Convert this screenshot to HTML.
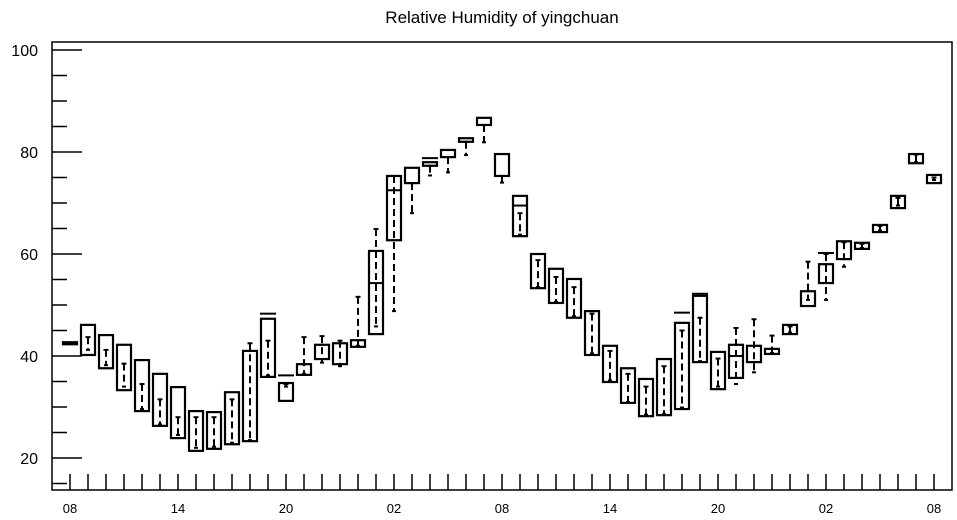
<!DOCTYPE html>
<html><head><meta charset="utf-8"><style>
body{margin:0;background:#fff;}
svg{display:block;font-family:"Liberation Sans",sans-serif;}
</style></head><body>
<svg id="chart" width="957" height="520" viewBox="0 0 957 520" xmlns="http://www.w3.org/2000/svg">
<text x="502" y="23" font-size="17" text-anchor="middle">Relative Humidity of yingchuan</text>
<rect x="52" y="42" width="900" height="448" fill="none" stroke="#000" stroke-width="1.5"/>
<g id="axes"></g>
<g id="marks"></g>
</svg>
<script>
const hourLabels=["08","14","20","02","08","14","20","02","08"];
const yTicks=[20,40,60,80,100];
const boxHi=[42.7,46.1,44.1,42.2,39.2,36.5,33.9,29.2,29.0,32.9,41.0,47.3,34.7,38.4,42.2,42.5,43.1,60.6,75.3,76.9,78.0,80.4,82.7,86.7,79.6,71.4,60.0,57.1,55.1,48.8,42.0,37.6,35.5,39.4,46.5,51.8,40.8,42.2,42.0,41.4,46.1,52.7,58.0,62.5,62.2,65.7,71.4,79.6,75.5];
const boxLo=[42.3,40.2,37.6,33.3,29.2,26.3,23.9,21.4,21.8,22.7,23.3,35.9,31.2,36.3,39.4,38.4,41.8,44.3,62.7,73.9,77.3,79.0,82.0,85.3,75.3,63.5,53.3,50.4,47.5,40.2,34.9,30.8,28.2,28.4,29.6,38.8,33.5,35.7,38.8,40.4,44.3,49.8,54.3,59.0,61.0,64.3,69.0,77.8,73.9];
const whiskHi=[42.6,43.7,41.2,38.5,34.5,31.5,28.0,28.0,28.0,31.5,42.5,43.0,34.5,43.7,43.9,43.0,51.6,64.9,75.3,73.9,77.3,79.0,82.0,85.3,75.3,68.0,58.8,55.5,53.5,48.3,41.0,36.5,34.0,38.0,45.0,47.5,39.5,45.5,47.2,44.0,45.8,58.5,60.0,62.3,62.0,65.5,71.0,79.5,75.0];
const whiskLo=[42.4,41.2,38.2,34.0,29.6,26.6,24.5,22.0,22.2,23.0,23.5,36.2,34.0,36.5,38.7,38.0,42.0,45.8,48.8,68.0,75.4,76.0,79.4,81.9,74.0,63.8,53.5,50.6,47.8,40.5,35.2,31.0,28.5,28.6,29.9,39.0,34.0,34.5,36.8,40.6,44.6,51.0,51.0,57.5,61.2,64.6,69.5,78.0,74.5];
const boxMed=[null,null,null,null,null,null,null,null,null,null,null,null,null,null,null,null,null,54.3,72.5,null,null,null,null,null,null,69.5,null,null,null,null,null,null,null,null,null,null,null,40.0,null,null,null,null,null,null,null,null,null,null,null];
const capLine=[null,null,null,null,null,null,null,null,null,null,null,48.3,36.2,null,null,null,null,null,null,null,78.8,null,null,null,null,null,null,null,null,null,null,null,null,null,48.5,52.2,null,null,null,null,null,null,60.2,null,null,null,null,null,null];
const NS="http://www.w3.org/2000/svg";
const X=i=>70+18*i;
const Y=v=>458-(v-20)*5.1;
const ax=document.getElementById('axes'),mk=document.getElementById('marks');
function mkEl(tag,attrs,parent){const e=document.createElementNS(NS,tag);for(const k in attrs)e.setAttribute(k,attrs[k]);parent.appendChild(e);return e;}
// y ticks
for(let v=15;v<=100;v+=5){
  const major=v%20===0;
  const t=mkEl('line',{x1:52,x2:major?82:67,y1:Y(v),y2:Y(v),stroke:'#000','stroke-width':1.5},ax);
  
  
}
yTicks.forEach(v=>{
  const t=mkEl('text',{x:38,y:Y(v)+6,'font-size':16,'text-anchor':'end'},ax);
  t.textContent=v;
  
  
});
// x ticks
for(let i=0;i<49;i++){
  const t=mkEl('line',{x1:X(i),x2:X(i),y1:490,y2:474,stroke:'#000','stroke-width':1.5},ax);
  
  
}
hourLabels.forEach((s,k)=>{
  const t=mkEl('text',{x:X(k*6),y:513,'font-size':13,'text-anchor':'middle'},ax);
  t.textContent=s;
  
  
});
// boxes
for(let i=0;i<boxHi.length;i++){
  const g=mkEl('g',{},mk);
  
  
  const x=X(i),y1=Y(boxHi[i]),y2=Y(boxLo[i]);
  mkEl('rect',{x:x-7,y:y1,width:14,height:Math.max(y2-y1,2),fill:'none',stroke:'#000','stroke-width':2.2},g);
  const w1=Y(whiskHi[i]),w2=Y(whiskLo[i]);
  mkEl('line',{x1:x,x2:x,y1:w1,y2:w2,stroke:'#000','stroke-width':2,'stroke-dasharray':'7,4'},g);
  mkEl('line',{x1:x-2.5,x2:x+2.5,y1:w1,y2:w1,stroke:'#000','stroke-width':2},g);
  mkEl('line',{x1:x-2,x2:x+2,y1:w2,y2:w2,stroke:'#000','stroke-width':2},g);
  if(boxMed[i]!==null){mkEl('line',{x1:x-7,x2:x+7,y1:Y(boxMed[i]),y2:Y(boxMed[i]),stroke:'#000','stroke-width':2},g);}
  if(capLine[i]!==null){mkEl('line',{x1:x-8,x2:x+8,y1:Y(capLine[i]),y2:Y(capLine[i]),stroke:'#000','stroke-width':2},g);}
}
</script>
</body></html>
